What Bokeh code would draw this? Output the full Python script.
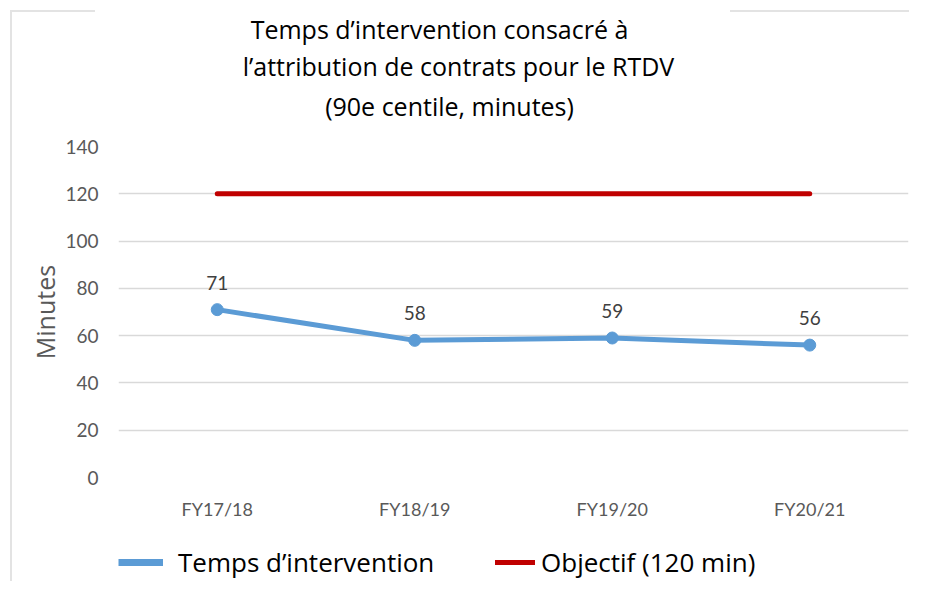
from bokeh.plotting import figure
from bokeh.layouts import column
from bokeh.models import (FactorRange, ColumnDataSource, LabelSet, Label, Legend,
                          LegendItem, FixedTicker, Range1d)
from bokeh.core.properties import value
from bokeh.embed import file_html
from bokeh.resources import INLINE

categories = ["FY17/18", "FY18/19", "FY19/20", "FY20/21"]
temps = [71, 58, 59, 56]
objectif = [120, 120, 120, 120]
y_ticks = [0, 20, 40, 60, 80, 100, 120, 140]
title_lines = ["Temps d\u2019intervention consacré à",
               "l\u2019attribution de contrats pour le RTDV",
               "(90e centile, minutes)"]
legend_labels = ["Temps d\u2019intervention", "Objectif (120 min)"]

FONT = "Lato"
TFONT = "Open Sans"
GRAY = "#595959"
BLUE = "#5B9BD5"
RED = "#C00000"
W = 909
FRAME_L, FRAME_R = 118, 908   # page x of the (aligned) plot frames

border_css = {
    "background-image": ("linear-gradient(#E3E3E3,#E3E3E3), linear-gradient(#E3E3E3,#E3E3E3), "
                         "linear-gradient(#E3E3E3,#E3E3E3)"),
    "background-size": "85px 2px, 200px 2px, 2px 600px",
    "background-position": "10px 10px, 730px 10px, 10px 10px",
    "background-repeat": "no-repeat",
}


def strip_fig(h):
    f = figure(width=W, height=h, x_range=Range1d(FRAME_L, FRAME_R), y_range=Range1d(0, h),
               output_backend="svg", toolbar_location=None,
               min_border_left=FRAME_L, min_border_right=W - FRAME_R,
               min_border_top=0, min_border_bottom=0,
               x_axis_location=None, y_axis_location=None)
    f.grid.visible = False
    f.outline_line_color = None
    f.background_fill_alpha = 0
    f.border_fill_alpha = 0
    return f


# ---- header with the three title lines
HEAD_H = 124
head = strip_fig(HEAD_H)
for txt, cx, cy in zip(title_lines, [439, 458, 449], [28, 65, 105]):
    head.add_layout(Label(x=cx, y=HEAD_H - cy, text=txt, text_align="center",
                          text_baseline="middle", text_font_size="25px",
                          text_color="#000000", text_font=TFONT))

# ---- main chart
p = figure(width=W, height=398, x_range=FactorRange(factors=categories, range_padding=0),
           y_range=Range1d(0, 140), output_backend="svg", toolbar_location=None,
           min_border_left=FRAME_L, min_border_right=W - FRAME_R,
           min_border_top=22, min_border_bottom=45)
p.outline_line_color = None
p.background_fill_color = "white"
p.border_fill_alpha = 0

src = ColumnDataSource(dict(cat=categories, temps=temps, obj=objectif,
                            lbl=[str(v) for v in temps]))

p.line("cat", "obj", source=src, line_color=RED, line_width=5, line_cap="round")
p.line("cat", "temps", source=src, line_color=BLUE, line_width=5)
p.scatter("cat", "temps", source=src, size=12, fill_color=BLUE, line_color=BLUE)

p.add_layout(LabelSet(x="cat", y="temps", text="lbl", source=src, y_offset=27,
                      text_align="center", text_baseline="middle", text_font_size="19px",
                      text_color="#404040", text_font=value(FONT)))

p.yaxis.ticker = FixedTicker(ticks=y_ticks)
p.yaxis.axis_line_color = None
p.yaxis.major_tick_line_color = None
p.yaxis.minor_tick_line_color = None
p.yaxis.major_label_standoff = 14
p.yaxis.major_label_text_font_size = "19px"
p.yaxis.major_label_text_color = GRAY
p.yaxis.major_label_text_font = FONT
p.yaxis.axis_label = "Minutes"
p.yaxis.axis_label_text_font_size = "25px"
p.yaxis.axis_label_text_font_style = "normal"
p.yaxis.axis_label_text_color = GRAY
p.yaxis.axis_label_text_font = TFONT
p.yaxis.axis_label_standoff = 0

p.xaxis.axis_line_color = None
p.xaxis.major_tick_line_color = None
p.xaxis.minor_tick_line_color = None
p.xaxis.major_label_standoff = 14
p.xaxis.major_label_text_font_size = "18px"
p.xaxis.major_label_text_color = GRAY
p.xaxis.major_label_text_font = FONT

p.xgrid.grid_line_color = None
p.ygrid.grid_line_color = "#D9D9D9"
p.ygrid.grid_line_width = 1.5

# ---- legend strip (legend-only renderers hold no visible points)
LEG_H = 59
leg = strip_fig(LEG_H)
nan = float("nan")
r_blue = leg.line(x=[nan], y=[nan], line_color=BLUE, line_width=7, line_cap="butt")
r_red = leg.line(x=[nan], y=[nan], line_color=RED, line_width=5, line_cap="round")
for lab, rend, x0, gw, so in [(legend_labels[0], r_blue, 0, 45, 15),
                              (legend_labels[1], r_red, 377, 40, 6)]:
    leg.add_layout(Legend(items=[LegendItem(label=lab, renderers=[rend])],
                          location=(x0, 1), glyph_width=gw, label_standoff=so,
                          padding=0, margin=0, border_line_color=None,
                          background_fill_alpha=0, label_text_font_size="26px",
                          label_text_font=TFONT, label_text_color="#000000"))

layout = column(head, p, leg, spacing=0, styles=border_css)

open("out.html", "w").write(file_html(layout, INLINE))
